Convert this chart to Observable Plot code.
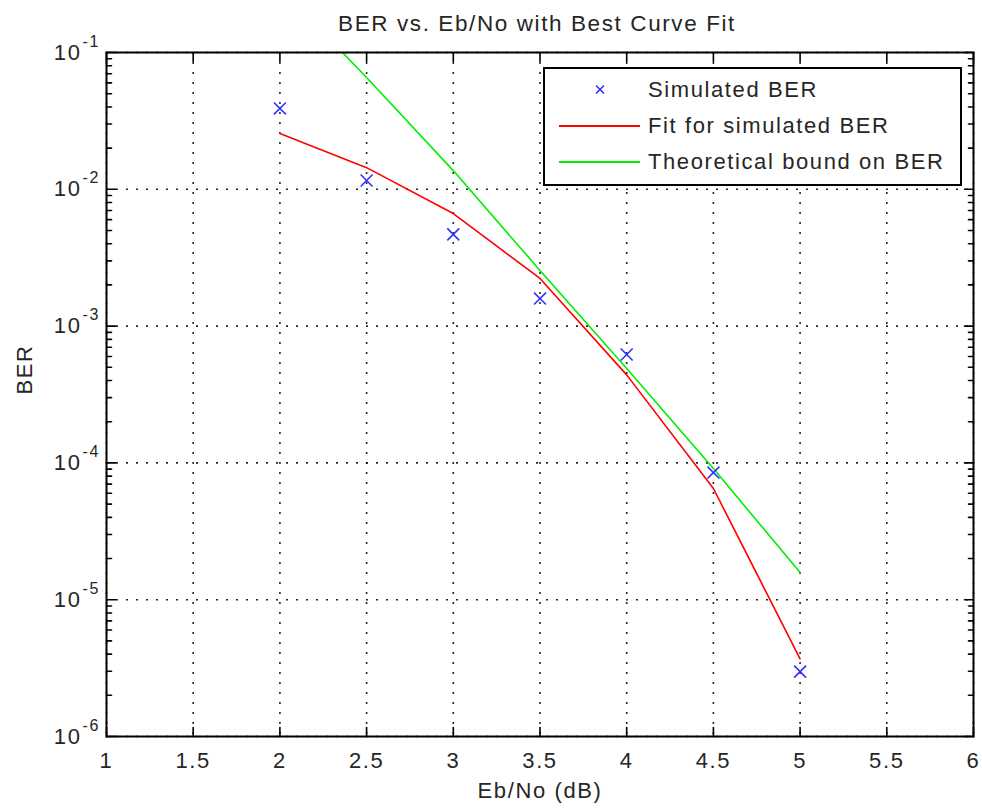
<!DOCTYPE html>
<html><head><meta charset="utf-8">
<script src="https://cdn.jsdelivr.net/npm/d3@7"></script>
<script src="https://cdn.jsdelivr.net/npm/@observablehq/plot@0.6"></script>
<style>
body{margin:0;background:#fff;}
#wrap{position:relative;width:982px;height:809px;}
#wrap svg text{letter-spacing:1.6px;}
#legend{position:absolute;left:543px;top:67px;width:415px;height:115px;border:2px solid #000;background:#fff;font-family:"Liberation Sans",Arial,sans-serif;font-size:22px;letter-spacing:1.6px;color:#262626;}
.row{position:absolute;left:0;height:36px;width:100%;}
.row svg{position:absolute;left:14px;top:0;}
.row span{position:absolute;left:103px;line-height:36px;top:0;white-space:nowrap;}
</style></head>
<body>
<div id="wrap"></div>
<script>
// ---- data ----
const ebno = [2, 2.5, 3, 3.5, 4, 4.5, 5];
const simBER = [0.039, 0.0116, 0.00468, 0.00159, 6.2e-4, 8.5e-5, 2.98e-6];
const fitBER = [0.0256, 0.0144, 0.00665, 0.00223, 4.4e-4, 6.5e-5, 3.7e-6];
const theoryBER = [0.30, 0.0656, 0.0137, 0.00255, 4.9e-4, 9.1e-5, 1.58e-5];
const xTicks = [1, 1.5, 2, 2.5, 3, 3.5, 4, 4.5, 5, 5.5, 6];
const yTicks = [1e-6, 1e-5, 1e-4, 1e-3, 1e-2, 1e-1];
const titleText = ["BER vs. Eb/No with Best Curve Fit"];
const xLabel = ["Eb/No (dB)"];
const yLabel = ["BER"];
const seriesNames = ["Simulated BER", "Fit for simulated BER", "Theoretical bound on BER"];
const seriesColors = ["#3030ff", "#ff0000", "#00ee00"];

const sim = ebno.map((x, i) => ({x, y: simBER[i]}));
const fit = ebno.map((x, i) => ({x, y: fitBER[i]}));
const theory = ebno.map((x, i) => ({x, y: theoryBER[i]}));
const yMinor = yTicks.slice(0, -1).flatMap(t => [2,3,4,5,6,7,8,9].map(m => m * t));

const textColor = "#262626";
const tickShape = {draw(context, l) { context.moveTo(0, 0); context.lineTo(0, -l); }};
const tickOpts = {shape: tickShape, anchor: "start", stroke: "#000", strokeWidth: 1.6};

const plot = Plot.plot({
  width: 982,
  height: 809,
  marginLeft: 106,
  marginRight: 9,
  marginTop: 52,
  marginBottom: 73,
  style: {fontFamily: "'Liberation Sans', Arial, sans-serif", fontSize: "22px", color: textColor, background: "#fff"},
  x: {domain: [1, 6], axis: null},
  y: {type: "log", domain: [1e-6, 1e-1], axis: null},
  marks: [
    Plot.gridX(xTicks, {stroke: "#000", strokeOpacity: 0.85, strokeWidth: 1.6, strokeDasharray: "2,8"}),
    Plot.gridY(yTicks, {stroke: "#000", strokeOpacity: 0.85, strokeWidth: 1.6, strokeDasharray: "2,8"}),
    // inward ticks
    Plot.vector(xTicks, {x: d => d, frameAnchor: "bottom", length: 9, rotate: 0, ...tickOpts}),
    Plot.vector(xTicks, {x: d => d, frameAnchor: "top", length: 9, rotate: 180, ...tickOpts}),
    Plot.vector(yTicks, {y: d => d, frameAnchor: "left", length: 9, rotate: 90, ...tickOpts}),
    Plot.vector(yTicks, {y: d => d, frameAnchor: "right", length: 9, rotate: -90, ...tickOpts}),
    Plot.vector(yMinor, {y: d => d, frameAnchor: "left", length: 5, rotate: 90, ...tickOpts}),
    Plot.vector(yMinor, {y: d => d, frameAnchor: "right", length: 5, rotate: -90, ...tickOpts}),
    // data
    Plot.line(theory, {x: "x", y: "y", stroke: seriesColors[2], strokeWidth: 1.6, clip: true}),
    Plot.line(fit, {x: "x", y: "y", stroke: seriesColors[1], strokeWidth: 1.6, clip: true}),
    Plot.dot(sim, {x: "x", y: "y", symbol: "times", r: 5.5, stroke: seriesColors[0], strokeWidth: 1.6}),
    Plot.frame({stroke: "#000", strokeWidth: 2}),
    // tick labels
    Plot.text(xTicks, {x: d => d, frameAnchor: "bottom", dy: 24, text: d => String(d), fill: textColor, fontSize: 22, lineAnchor: "middle"}),
    Plot.text(yTicks, {y: d => d, frameAnchor: "left", dx: -25, text: () => "10", textAnchor: "end", fill: textColor, fontSize: 22, lineAnchor: "middle"}),
    Plot.text(yTicks, {y: d => d, frameAnchor: "left", dx: -24, dy: -11, text: d => String(Math.round(Math.log10(d))), textAnchor: "start", fill: textColor, fontSize: 16, lineAnchor: "middle"}),
    // titles
    Plot.text(titleText, {frameAnchor: "top", dy: -29, dx: -3, text: d => d, fill: textColor, fontSize: 22.5, lineAnchor: "middle"}),
    Plot.text(xLabel, {frameAnchor: "bottom", dy: 54, text: d => d, fill: textColor, fontSize: 22, lineAnchor: "middle"}),
    Plot.text(yLabel, {frameAnchor: "left", dx: -82, rotate: -90, text: d => d, fill: textColor, fontSize: 22, lineAnchor: "middle"})
  ]
});

const wrap = document.getElementById("wrap");
wrap.appendChild(plot);

// legend
const legend = document.createElement("div");
legend.id = "legend";
seriesNames.forEach((name, i) => {
  const row = document.createElement("div");
  row.className = "row";
  row.style.top = (3 + i * 36) + "px";
  const sample = i === 0
    ? `<svg width="82" height="36"><path d="M37,13.5L45,21.5M45,13.5L37,21.5" stroke="${seriesColors[0]}" stroke-width="1.6" fill="none"/></svg>`
    : `<svg width="82" height="36"><line x1="0" x2="81" y1="18" y2="18" stroke="${seriesColors[i]}" stroke-width="1.8"/></svg>`;
  row.innerHTML = sample + `<span>${name}</span>`;
  legend.appendChild(row);
});
wrap.appendChild(legend);
</script>
</body></html>
